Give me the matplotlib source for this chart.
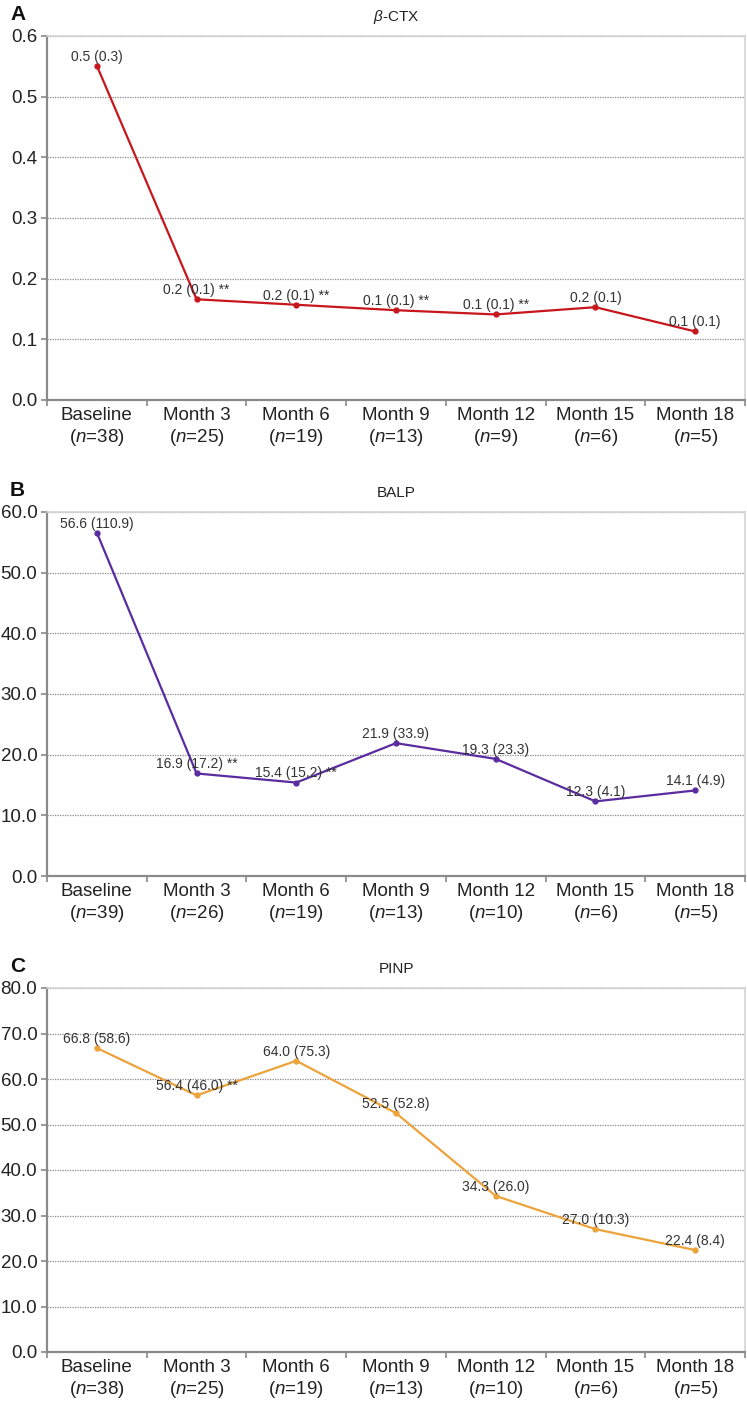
import matplotlib
matplotlib.use('Agg')
import matplotlib.pyplot as plt
from matplotlib.ticker import FixedLocator, MultipleLocator, FormatStrFormatter, NullFormatter

plt.rcParams['font.family'] = ['Liberation Sans', 'DejaVu Sans']
plt.rcParams['mathtext.fontset'] = 'custom'
plt.rcParams['mathtext.rm'] = 'Liberation Sans'
plt.rcParams['mathtext.it'] = 'Liberation Sans:italic'

visits = ['Baseline', 'Month 3', 'Month 6', 'Month 9', 'Month 12', 'Month 15', 'Month 18']

ctx_n = [38, 25, 19, 13, 9, 6, 5]
ctx_values = [0.551, 0.166, 0.157, 0.148, 0.141, 0.153, 0.113]
ctx_labels = ['0.5 (0.3)', '0.2 (0.1) **', '0.2 (0.1) **', '0.1 (0.1) **',
              '0.1 (0.1) **', '0.2 (0.1)', '0.1 (0.1)']

balp_n = [39, 26, 19, 13, 10, 6, 5]
balp_values = [56.6, 16.9, 15.4, 21.9, 19.3, 12.3, 14.1]
balp_labels = ['56.6 (110.9)', '16.9 (17.2) **', '15.4 (15.2) **', '21.9 (33.9)',
               '19.3 (23.3)', '12.3 (4.1)', '14.1 (4.9)']

pinp_n = [38, 25, 19, 13, 10, 6, 5]
pinp_values = [66.8, 56.4, 64.0, 52.5, 34.3, 27.0, 22.4]
pinp_labels = ['66.8 (58.6)', '56.4 (46.0) **', '64.0 (75.3)', '52.5 (52.8)',
               '34.3 (26.0)', '27.0 (10.3)', '22.4 (8.4)']

W, H = 747, 1403
fig = plt.figure(figsize=(W / 100, H / 100), dpi=100)

panels = [
    dict(letter='A', title=r'$\beta$-CTX', n=ctx_n, values=ctx_values, labels=ctx_labels,
         ymax=0.6, step=0.1, color='#C8161D', top=36, bottom=400),
    dict(letter='B', title='BALP', n=balp_n, values=balp_values, labels=balp_labels,
         ymax=60.0, step=10.0, color='#5A2CA0', top=512, bottom=876),
    dict(letter='C', title='PINP', n=pinp_n, values=pinp_values, labels=pinp_labels,
         ymax=80.0, step=10.0, color='#EDA33B', top=988, bottom=1352),
]

left_px, right_px = 47, 745

for p in panels:
    ax = fig.add_axes([left_px / W, 1 - p['bottom'] / H,
                       (right_px - left_px) / W, (p['bottom'] - p['top']) / H])
    x = list(range(len(visits)))
    ax.plot(x, p['values'], color=p['color'], lw=1.6, marker='o', ms=3.5, zorder=3)
    for xi, yi, lab in zip(x, p['values'], p['labels']):
        ax.annotate(lab, (xi, yi), xytext=(0, 1.5), textcoords='offset points',
                    ha='center', va='bottom', fontsize=10, color='#333333', zorder=4)
    ax.set_xlim(-0.5, len(visits) - 0.5)
    ax.set_ylim(0, p['ymax'])
    ax.yaxis.set_major_locator(MultipleLocator(p['step']))
    ax.yaxis.set_major_formatter(FormatStrFormatter('%.1f'))
    ax.xaxis.set_major_locator(FixedLocator(x))
    ax.set_xticklabels([f'{v}\n($n$={n})' for v, n in zip(visits, p['n'])],
                       linespacing=1.2)
    ax.xaxis.set_minor_locator(FixedLocator([i - 0.5 for i in range(len(visits) + 1)]))
    ax.xaxis.set_minor_formatter(NullFormatter())
    ax.tick_params(axis='x', which='major', length=0, pad=5, labelsize=13.5, colors='#222222')
    ax.tick_params(axis='x', which='minor', length=4, width=1.2, color='#888888', direction='out')
    ax.tick_params(axis='y', which='major', length=4, width=1.2, color='#888888',
                   labelsize=13.5, labelcolor='#222222', pad=3)
    ax.set_axisbelow(True)
    ax.grid(axis='y', which='major', linestyle=(0, (1, 1)), color='#8a8a8a', lw=0.9)
    for s in ['left', 'bottom']:
        ax.spines[s].set_color('#8a8a8a')
        ax.spines[s].set_linewidth(1.6)
    for s in ['top', 'right']:
        ax.spines[s].set_color('#d4d4d4')
        ax.spines[s].set_linewidth(1.2)
    # title and panel letter
    fig.text((left_px + right_px) / 2 / W, 1 - (p['top'] - 19) / H, p['title'],
             ha='center', va='center', fontsize=11, color='#222222')
    fig.text(10 / W, 1 - (p['top'] - 21) / H, p['letter'], ha='left', va='center',
             fontsize=15, fontweight='bold', color='#111111')

fig.savefig('out.png', dpi=100)
